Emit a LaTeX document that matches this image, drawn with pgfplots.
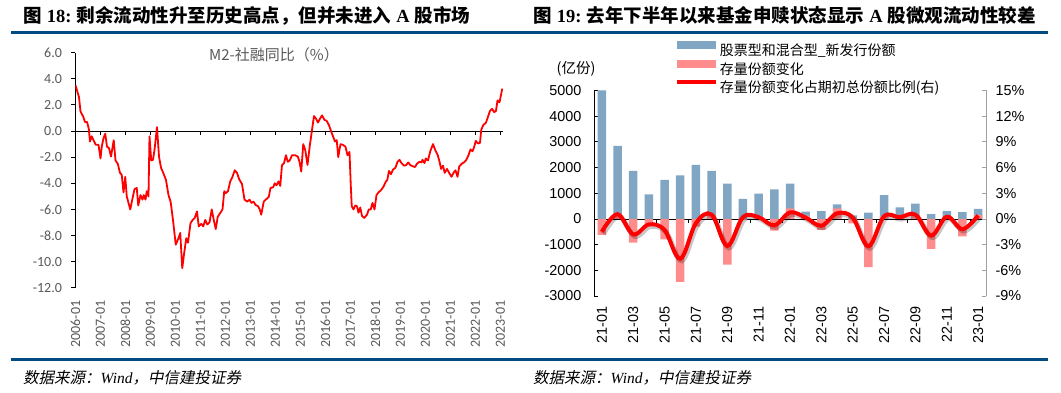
\documentclass[border=0pt]{standalone}
\usepackage{fontspec}
\usepackage{pgfplots}
\pgfplotsset{compat=1.18}
\setmainfont{Liberation Sans}
\newfontfamily\cjk{Noto Sans CJK SC}
\newfontfamily\cjksl[FakeSlant=0.2]{Noto Sans CJK SC}
\newfontfamily\carl{Carlito}
\newfontfamily\tnr{Liberation Serif}
\definecolor{rulec}{RGB}{0,76,128}
\definecolor{barblue}{RGB}{128,166,196}
\definecolor{barpink}{RGB}{255,140,140}
\definecolor{lab}{RGB}{89,89,89}
\definecolor{axgray}{RGB}{160,160,160}

\pgfplotstableread{
x y
2006.00 3.5
2006.14 2.6
2006.20 1.5
2006.31 1.1
2006.38 0.7
2006.46 0.7
2006.53 0.2
2006.58 -0.8
2006.65 -0.4
2006.72 -0.7
2006.81 -1.05
2006.92 -1.05
2007.00 -2.1
2007.05 -1.2
2007.12 -0.55
2007.19 -0.2
2007.26 -1.2
2007.34 -1.3
2007.42 -1.95
2007.53 -0.7
2007.60 -2.25
2007.69 -2.5
2007.78 -3.2
2007.85 -3.35
2007.92 -4.7
2007.99 -3.5
2008.05 -5.0
2008.19 -6.0
2008.27 -5.25
2008.36 -4.45
2008.45 -4.35
2008.51 -5.7
2008.60 -4.9
2008.68 -5.25
2008.73 -4.9
2008.80 -5.25
2008.85 -4.6
2008.92 -5.0
2008.96 -0.4
2009.03 -2.25
2009.10 -2.2
2009.16 -1.45
2009.26 0.3
2009.34 -1.95
2009.42 -2.8
2009.51 -3.2
2009.62 -3.75
2009.72 -4.9
2009.81 -5.45
2009.92 -7.15
2010.01 -8.7
2010.12 -8.2
2010.19 -7.8
2010.27 -10.5
2010.35 -9.3
2010.43 -8.2
2010.50 -8.55
2010.60 -7.05
2010.69 -6.8
2010.77 -6.65
2010.86 -6.15
2010.93 -7.3
2011.03 -7.1
2011.11 -7.3
2011.19 -6.8
2011.27 -7.15
2011.36 -7.0
2011.45 -6.0
2011.53 -6.8
2011.61 -7.5
2011.69 -6.55
2011.78 -6.3
2011.88 -6.0
2011.95 -4.6
2012.01 -4.75
2012.10 -4.6
2012.19 -3.85
2012.28 -3.5
2012.37 -3.0
2012.46 -3.2
2012.55 -3.7
2012.66 -4.05
2012.76 -5.25
2012.87 -5.4
2012.96 -5.25
2013.04 -5.5
2013.12 -5.4
2013.20 -5.65
2013.30 -5.75
2013.37 -6.0
2013.43 -6.4
2013.53 -5.4
2013.64 -5.2
2013.73 -5.05
2013.80 -4.35
2013.91 -4.3
2013.97 -4.0
2014.04 -4.15
2014.12 -3.85
2014.19 -4.2
2014.26 -2.6
2014.34 -2.45
2014.42 -1.85
2014.49 -2.35
2014.57 -2.25
2014.66 -1.85
2014.78 -1.85
2014.89 -1.95
2014.96 -2.35
2015.03 -3.1
2015.11 -1.0
2015.19 -1.45
2015.28 -2.6
2015.37 -1.15
2015.45 -0.05
2015.54 1.15
2015.62 0.95
2015.70 0.65
2015.78 0.95
2015.86 1.2
2015.96 0.85
2016.04 0.8
2016.14 0.45
2016.23 -0.05
2016.31 -0.45
2016.38 -0.8
2016.45 -0.7
2016.51 -2.0
2016.60 -1.0
2016.69 -1.05
2016.80 -1.2
2016.88 -1.85
2016.96 -1.6
2017.01 -4.1
2017.05 -5.75
2017.12 -6.0
2017.19 -5.7
2017.26 -5.75
2017.32 -6.25
2017.39 -5.85
2017.46 -6.5
2017.55 -6.65
2017.66 -6.4
2017.73 -6.0
2017.81 -6.0
2017.88 -5.5
2017.96 -6.0
2018.04 -4.9
2018.12 -4.7
2018.23 -4.5
2018.32 -4.25
2018.42 -3.85
2018.47 -3.75
2018.54 -3.05
2018.62 -3.3
2018.70 -2.95
2018.80 -2.8
2018.88 -2.35
2018.96 -2.2
2019.04 -2.45
2019.14 -2.65
2019.23 -2.6
2019.31 -2.4
2019.39 -2.6
2019.49 -2.7
2019.58 -2.75
2019.66 -2.5
2019.76 -2.35
2019.84 -2.4
2019.88 -2.2
2019.96 -2.45
2020.01 -2.1
2020.10 -2.25
2020.19 -1.55
2020.30 -1.0
2020.39 -1.45
2020.49 -1.85
2020.57 -2.4
2020.62 -2.9
2020.70 -2.65
2020.77 -3.2
2020.86 -2.9
2020.96 -3.25
2021.04 -3.5
2021.12 -3.2
2021.20 -3.0
2021.28 -3.5
2021.35 -2.7
2021.45 -2.5
2021.54 -2.4
2021.62 -2.25
2021.72 -1.85
2021.80 -1.4
2021.88 -1.55
2021.95 -1.2
2022.01 -0.75
2022.10 -0.95
2022.18 -0.9
2022.23 0.1
2022.31 0.45
2022.42 0.65
2022.50 1.1
2022.58 1.55
2022.66 1.7
2022.75 1.45
2022.82 1.55
2022.88 2.35
2022.96 2.2
2023.07 3.25
}\mtwo

\pgfplotstableread{
i newshare change ratio
0 5000 -620 -1.5
1 2840 150 0.55
2 1870 -920 -1.8
3 950 -250 -0.65
4 1520 -800 -1.3
5 1690 -2450 -4.65
6 2100 -300 -0.5
7 1870 150 0.5
8 1370 -1780 -3.15
9 780 -50 0.2
10 980 50 0.2
11 1150 -460 -0.75
12 1370 410 0.75
13 280 130 0.15
14 305 -430 -0.8
15 570 410 0.65
16 140 -170 0.15
17 240 -1880 -3.2
18 930 100 0.3
19 450 80 0.2
20 590 130 0.5
21 190 -1170 -1.95
22 300 80 0.25
23 265 -680 -1.2
24 395 150 0.4
}\fund

\begin{document}
\begin{tikzpicture}[x=1pt,y=1pt]
\useasboundingbox (0,0) rectangle (1061,392);
\fill[white] (0,0) rectangle (1061,392);
% rules
\fill[rulec] (11,357.8) rectangle (1048,360.8);
\fill[rulec] (11,31) rectangle (1048,33.8);
% titles
\node[anchor=base west, inner sep=0, font=\fontsize{18.5}{20}\selectfont] at (23,370)
 {{\cjk\bfseries 图}\ {\tnr\bfseries 18:}\ {\cjk\bfseries 剩余流动性升至历史高点，但并未进入}\ {\tnr\bfseries A}\ {\cjk\bfseries 股市场}};
\node[anchor=base west, inner sep=0, font=\fontsize{18.5}{20}\selectfont] at (533,370)
 {{\cjk\bfseries 图}\ {\tnr\bfseries 19:}\ {\cjk\bfseries 去年下半年以来基金申赎状态显示}\ {\tnr\bfseries A}\ {\cjk\bfseries 股微观流动性较差}};
% sources
\node[anchor=base west, inner sep=0, font=\fontsize{15.5}{17}\selectfont] at (23,9)
 {{\cjksl 数据来源：}{\tnr\itshape Wind}{\cjksl ，中信建投证券}};
\node[anchor=base west, inner sep=0, font=\fontsize{15.5}{17}\selectfont] at (533,9)
 {{\cjksl 数据来源：}{\tnr\itshape Wind}{\cjksl ，中信建投证券}};
% left chart title
\node[font=\cjk\fontsize{15}{17}\selectfont, text=lab] at (274,337) {M2-社融同比（\%）};

% ---------- left chart ----------
\begin{axis}[
  at={(75.5pt,104.2pt)}, anchor=south west,
  scale only axis, width=427.5pt, height=235.1pt,
  xmin=2006, xmax=2023.1, ymin=-12, ymax=6,
  axis x line=middle, axis y line=left,
  axis line style={-, black, line width=1.1pt},
  hide obscured x ticks=false,
  xtick={2006,2007,...,2023},
  xticklabels={2006-01,2007-01,2008-01,2009-01,2010-01,2011-01,2012-01,2013-01,2014-01,2015-01,2016-01,2017-01,2018-01,2019-01,2020-01,2021-01,2022-01,2023-01},
  xticklabel shift=162pt,
  x tick label style={rotate=90, anchor=east, font=\carl\fontsize{14}{16}\selectfont, text=lab},
  ytick={-12,-10,...,6},
  yticklabels={-12.0,-10.0,-8.0,-6.0,-4.0,-2.0,0.0,2.0,4.0,6.0},
  y tick label style={font=\carl\fontsize{14}{16}\selectfont, text=lab, xshift=-6pt},
  tick align=outside,
  major tick length=4pt,
  tick style={black, line width=1pt},
]
\addplot[red, line width=1.8pt, line join=round] table[x=x,y=y] {\mtwo};
\end{axis}

% ---------- right chart: bars ----------
\node[font=\cjk\fontsize{14.5}{16}\selectfont] at (576,322.7) {(亿份)};
\begin{axis}[
  at={(594pt,96pt)}, anchor=south west,
  scale only axis, width=392pt, height=205.6pt,
  xmin=-0.5, xmax=24.5, ymin=-3000, ymax=5000,
  axis x line=middle, axis y line*=left,
  axis line style={-, black, line width=0.8pt},
  hide obscured x ticks=false,
  xtick={0,2,...,24},
  xticklabels={21-01,21-03,21-05,21-07,21-09,21-11,22-01,22-03,22-05,22-07,22-09,22-11,23-01},
  major x tick style={draw=none},
  minor xtick={1.5,3.5,...,23.5},
  minor tick length=4pt,
  xticklabel shift=80pt,
  x tick label style={rotate=90, anchor=east, font=\fontsize{14.4}{16}\selectfont},
  ytick={-3000,-2000,...,5000},
  yticklabels={-3000,-2000,-1000,0,1000,2000,3000,4000,5000},
  y tick label style={font=\fontsize{14.4}{16}\selectfont, xshift=-9pt},
  tick align=inside,
  major tick length=4pt,
  tick style={black, line width=0.8pt},
  ybar, bar width=8.5pt, bar shift=0pt,
  legend style={at={(0.2059,1.2398)}, anchor=north west, draw=none, fill=none,
    font=\cjk\fontsize{14}{16}\selectfont, row sep=1.8pt, inner sep=0pt,
    nodes={inner xsep=2pt, inner ysep=0pt, text height=12.5pt, text depth=3.5pt}},
  legend cell align=left,
]
\addplot[fill=barblue, draw=none, legend image code/.code={\fill[barblue] (0pt,1.3pt) rectangle (39pt,9.3pt);}] table[x=i,y=newshare] {\fund};
\addlegendentry{股票型和混合型\_新发行份额}
\addplot[fill=barpink, draw=none, legend image code/.code={\fill[barpink] (0pt,1.3pt) rectangle (39pt,9.3pt);}] table[x=i,y=change] {\fund};
\addlegendentry{存量份额变化}
\addlegendimage{legend image code/.code={\draw[red, line width=4pt] (0pt,5.3pt) -- (39pt,5.3pt);}}
\addlegendentry{存量份额变化占期初总份额比例(右)}
\end{axis}

% ---------- right chart: ratio line ----------
\begin{axis}[
  at={(594pt,96pt)}, anchor=south west,
  scale only axis, width=392pt, height=205.6pt,
  xmin=-0.5, xmax=24.5, ymin=-9, ymax=15,
  axis x line=none, axis y line*=right,
  axis line style={-, axgray, line width=0.8pt},
  ytick={-9,-6,...,15},
  yticklabels={-9\%,-6\%,-3\%,0\%,3\%,6\%,9\%,12\%,15\%},
  y tick label style={font=\fontsize{14.4}{16}\selectfont, xshift=6pt},
  tick align=inside,
  major tick length=4pt,
  tick style={axgray, line width=0.8pt},
]
\addplot[black, opacity=0.22, line width=5pt, smooth, tension=0.6, xshift=1.5pt, yshift=-2pt] table[x=i,y=ratio] {\fund};
\addplot[red, line width=4pt, smooth, tension=0.6] table[x=i,y=ratio] {\fund};
\end{axis}
\end{tikzpicture}
\end{document}
